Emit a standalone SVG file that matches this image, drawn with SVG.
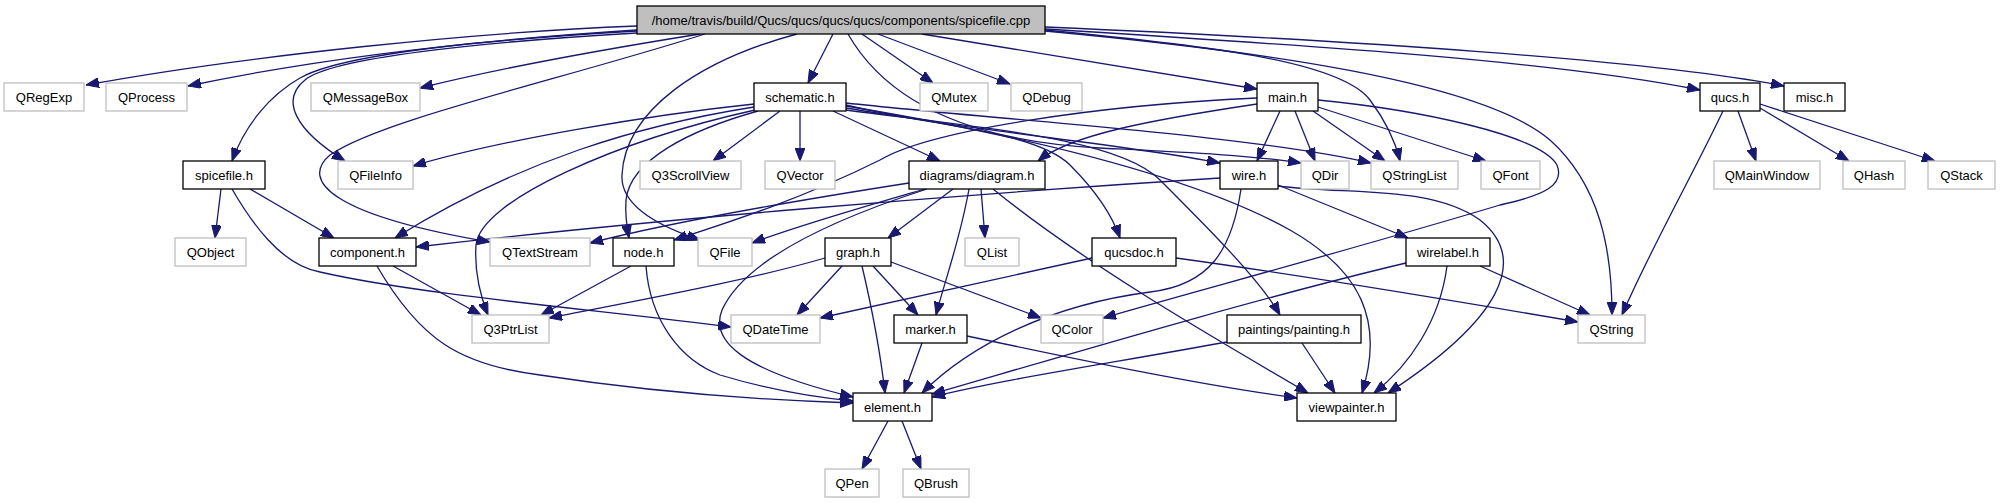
<svg xmlns="http://www.w3.org/2000/svg" width="2005" height="504" viewBox="0 0 2005 504">
<style>
.b{fill:#fff;stroke:#000;stroke-width:1.3}
.g{fill:#fff;stroke:#bfbfbf;stroke-width:1.3}
.m{fill:#bfbfbf;stroke:#000;stroke-width:1.3}
text{font-family:"Liberation Sans",Arial,sans-serif;font-size:13px;text-anchor:middle;fill:#000}
.e path{fill:none;stroke:#191970;stroke-width:1.3;marker-end:url(#a)}
</style>
<defs>
<marker id="a" viewBox="0 0 13 10" refX="13" refY="5" markerWidth="13" markerHeight="10" markerUnits="userSpaceOnUse" orient="auto">
<path d="M0,0 L13,5 L0,10 z" fill="#191970" stroke="#191970" stroke-width="1"/>
</marker>
</defs>
<g class="e" id="edges">
<path d="M637,26 C480,32 250,55 86,85"/>
<path d="M637,30 C480,40 320,58 188,86"/>
<path d="M700,34 C600,50 500,68 420,88"/>
<path d="M637,31 C480,40 340,55 300,78 C270,95 245,125 232,161"/>
<path d="M637,33 C480,42 330,58 305,80 C280,100 295,130 345,161"/>
<path d="M705,34 C560,80 380,120 330,155 C300,180 330,215 490,242"/>
<path d="M797,34 C700,60 625,110 622,175 C620,210 670,230 700,240"/>
<path d="M833,34 L808,83"/>
<path d="M862,34 L933,83"/>
<path d="M878,34 L1010,84"/>
<path d="M922,34 L1257,89"/>
<path d="M848,34 C880,90 950,140 1100,148 C1180,152 1250,155 1301,163"/>
<path d="M1045,30 C1200,45 1340,60 1370,100 C1385,120 1395,140 1400,161"/>
<path d="M1045,31 C1250,50 1480,80 1550,140 C1600,185 1612,250 1612,315"/>
<path d="M1045,29 C1300,45 1550,60 1700,90"/>
<path d="M1045,27 C1350,40 1650,60 1784,86"/>
<path d="M754,104 C650,115 500,140 413,166"/>
<path d="M754,107 C640,125 520,160 395,238"/>
<path d="M755,110 C620,140 480,200 476,245 C474,275 482,300 488,315"/>
<path d="M758,111 C690,130 630,160 626,200 C625,215 627,228 629,238"/>
<path d="M780,111 L713,161"/>
<path d="M800,111 L800,161"/>
<path d="M833,111 L940,161"/>
<path d="M846,105 C950,130 1100,140 1220,163"/>
<path d="M846,103 C1000,120 1250,135 1371,163"/>
<path d="M846,108 C950,125 1040,135 1070,165 C1095,190 1112,215 1120,238"/>
<path d="M846,110 C1000,130 1120,140 1160,180 C1210,230 1260,280 1280,315"/>
<path d="M846,106 C1050,140 1200,180 1290,230 C1360,270 1385,320 1362,393"/>
<path d="M1257,104 C1150,120 1070,135 1038,161"/>
<path d="M1257,98 C1100,105 930,130 880,160 C800,200 720,225 674,240"/>
<path d="M1280,111 L1257,161"/>
<path d="M1295,111 L1315,161"/>
<path d="M1313,111 L1385,161"/>
<path d="M1318,107 L1486,161"/>
<path d="M1318,100 C1420,110 1540,135 1557,165 C1565,185 1545,195 1500,205 C1350,250 1200,290 1103,318"/>
<path d="M1723,111 C1690,180 1650,250 1622,315"/>
<path d="M1738,111 L1756,161"/>
<path d="M1760,108 L1849,161"/>
<path d="M1760,104 L1935,161"/>
<path d="M221,189 L215,238"/>
<path d="M250,189 L334,238"/>
<path d="M232,189 C250,220 280,265 320,272 C420,295 600,310 731,327"/>
<path d="M393,266 L481,315"/>
<path d="M377,266 C420,340 460,365 540,375 C650,392 760,400 853,403"/>
<path d="M631,266 L541,315"/>
<path d="M646,266 C650,320 680,360 720,375 C770,390 810,397 853,401"/>
<path d="M909,183 C800,200 680,220 590,243"/>
<path d="M925,189 C870,205 800,225 752,243"/>
<path d="M953,189 L888,238"/>
<path d="M969,189 C960,240 945,280 936,315"/>
<path d="M981,189 L985,238"/>
<path d="M993,189 C1080,260 1200,330 1308,393"/>
<path d="M927,189 C800,230 740,270 722,310 C710,340 740,370 853,397"/>
<path d="M842,266 L797,315"/>
<path d="M873,266 L918,315"/>
<path d="M891,262 L1041,318"/>
<path d="M825,258 C750,280 640,300 549,318"/>
<path d="M862,266 C870,300 880,350 885,393"/>
<path d="M1092,258 L820,318"/>
<path d="M1176,258 C1300,275 1450,300 1578,322"/>
<path d="M1220,178 C950,195 650,220 416,247"/>
<path d="M1278,185 L1408,238"/>
<path d="M1241,189 C1232,250 1210,285 1150,292 C1050,305 970,345 922,393"/>
<path d="M1278,186 C1350,195 1430,185 1480,220 C1530,260 1500,320 1388,393"/>
<path d="M1406,263 C1250,300 1050,360 932,394"/>
<path d="M1447,266 C1440,320 1410,365 1374,393"/>
<path d="M1480,266 L1590,315"/>
<path d="M922,343 L904,393"/>
<path d="M967,336 C1080,360 1200,385 1297,398"/>
<path d="M1227,342 C1100,365 1000,380 932,397"/>
<path d="M1302,343 L1335,393"/>
<path d="M888,421 L862,469"/>
<path d="M902,421 L921,469"/>
</g>
<g id="spicefile_cpp"><rect class="m" x="637" y="6" width="408" height="28"/><text x="841" y="24.5">/home/travis/build/Qucs/qucs/qucs/qucs/components/spicefile.cpp</text></g>
<g id="QRegExp"><rect class="g" x="4" y="83" width="80" height="28"/><text x="44" y="101.5">QRegExp</text></g>
<g id="QProcess"><rect class="g" x="106" y="83" width="81" height="28"/><text x="146.5" y="101.5">QProcess</text></g>
<g id="QMessageBox"><rect class="g" x="311" y="83" width="109" height="28"/><text x="365.5" y="101.5">QMessageBox</text></g>
<g id="schematic_h"><rect class="b" x="754" y="83" width="92" height="28"/><text x="800" y="101.5">schematic.h</text></g>
<g id="QMutex"><rect class="g" x="920" y="83" width="68" height="28"/><text x="954" y="101.5">QMutex</text></g>
<g id="QDebug"><rect class="g" x="1011" y="83" width="71" height="28"/><text x="1046.5" y="101.5">QDebug</text></g>
<g id="main_h"><rect class="b" x="1257" y="83" width="61" height="28"/><text x="1287.5" y="101.5">main.h</text></g>
<g id="qucs_h"><rect class="b" x="1700" y="83" width="60" height="28"/><text x="1730" y="101.5">qucs.h</text></g>
<g id="misc_h"><rect class="b" x="1784" y="83" width="61" height="28"/><text x="1814.5" y="101.5">misc.h</text></g>
<g id="spicefile_h"><rect class="b" x="183" y="161" width="82" height="28"/><text x="224" y="179.5">spicefile.h</text></g>
<g id="QFileInfo"><rect class="g" x="338" y="161" width="75" height="28"/><text x="375.5" y="179.5">QFileInfo</text></g>
<g id="Q3ScrollView"><rect class="g" x="640" y="161" width="101" height="28"/><text x="690.5" y="179.5">Q3ScrollView</text></g>
<g id="QVector"><rect class="g" x="765" y="161" width="70" height="28"/><text x="800" y="179.5">QVector</text></g>
<g id="diagram_h"><rect class="b" x="909" y="161" width="136" height="28"/><text x="977" y="179.5">diagrams/diagram.h</text></g>
<g id="wire_h"><rect class="b" x="1220" y="161" width="58" height="28"/><text x="1249" y="179.5">wire.h</text></g>
<g id="QDir"><rect class="g" x="1301" y="161" width="48" height="28"/><text x="1325" y="179.5">QDir</text></g>
<g id="QStringList"><rect class="g" x="1371" y="161" width="87" height="28"/><text x="1414.5" y="179.5">QStringList</text></g>
<g id="QFont"><rect class="g" x="1481" y="161" width="59" height="28"/><text x="1510.5" y="179.5">QFont</text></g>
<g id="QMainWindow"><rect class="g" x="1714" y="161" width="106" height="28"/><text x="1767" y="179.5">QMainWindow</text></g>
<g id="QHash"><rect class="g" x="1843" y="161" width="62" height="28"/><text x="1874" y="179.5">QHash</text></g>
<g id="QStack"><rect class="g" x="1928" y="161" width="67" height="28"/><text x="1961.5" y="179.5">QStack</text></g>
<g id="QObject"><rect class="g" x="175" y="238" width="71" height="28"/><text x="210.5" y="256.5">QObject</text></g>
<g id="component_h"><rect class="b" x="319" y="238" width="97" height="28"/><text x="367.5" y="256.5">component.h</text></g>
<g id="QTextStream"><rect class="g" x="490" y="238" width="100" height="28"/><text x="540" y="256.5">QTextStream</text></g>
<g id="node_h"><rect class="b" x="613" y="238" width="61" height="28"/><text x="643.5" y="256.5">node.h</text></g>
<g id="QFile"><rect class="g" x="698" y="238" width="54" height="28"/><text x="725" y="256.5">QFile</text></g>
<g id="graph_h"><rect class="b" x="825" y="238" width="66" height="28"/><text x="858" y="256.5">graph.h</text></g>
<g id="QList"><rect class="g" x="965" y="238" width="54" height="28"/><text x="992" y="256.5">QList</text></g>
<g id="qucsdoc_h"><rect class="b" x="1092" y="238" width="84" height="28"/><text x="1134" y="256.5">qucsdoc.h</text></g>
<g id="wirelabel_h"><rect class="b" x="1406" y="238" width="84" height="28"/><text x="1448" y="256.5">wirelabel.h</text></g>
<g id="Q3PtrList"><rect class="g" x="472" y="315" width="77" height="28"/><text x="510.5" y="333.5">Q3PtrList</text></g>
<g id="QDateTime"><rect class="g" x="731" y="315" width="89" height="28"/><text x="775.5" y="333.5">QDateTime</text></g>
<g id="marker_h"><rect class="b" x="894" y="315" width="73" height="28"/><text x="930.5" y="333.5">marker.h</text></g>
<g id="QColor"><rect class="g" x="1041" y="315" width="62" height="28"/><text x="1072" y="333.5">QColor</text></g>
<g id="painting_h"><rect class="b" x="1227" y="315" width="134" height="28"/><text x="1294" y="333.5">paintings/painting.h</text></g>
<g id="QString"><rect class="g" x="1578" y="315" width="67" height="28"/><text x="1611.5" y="333.5">QString</text></g>
<g id="element_h"><rect class="b" x="853" y="393" width="79" height="28"/><text x="892.5" y="411.5">element.h</text></g>
<g id="viewpainter_h"><rect class="b" x="1297" y="393" width="99" height="28"/><text x="1346.5" y="411.5">viewpainter.h</text></g>
<g id="QPen"><rect class="g" x="825" y="469" width="54" height="28"/><text x="852" y="487.5">QPen</text></g>
<g id="QBrush"><rect class="g" x="903" y="469" width="66" height="28"/><text x="936" y="487.5">QBrush</text></g>
</svg>
